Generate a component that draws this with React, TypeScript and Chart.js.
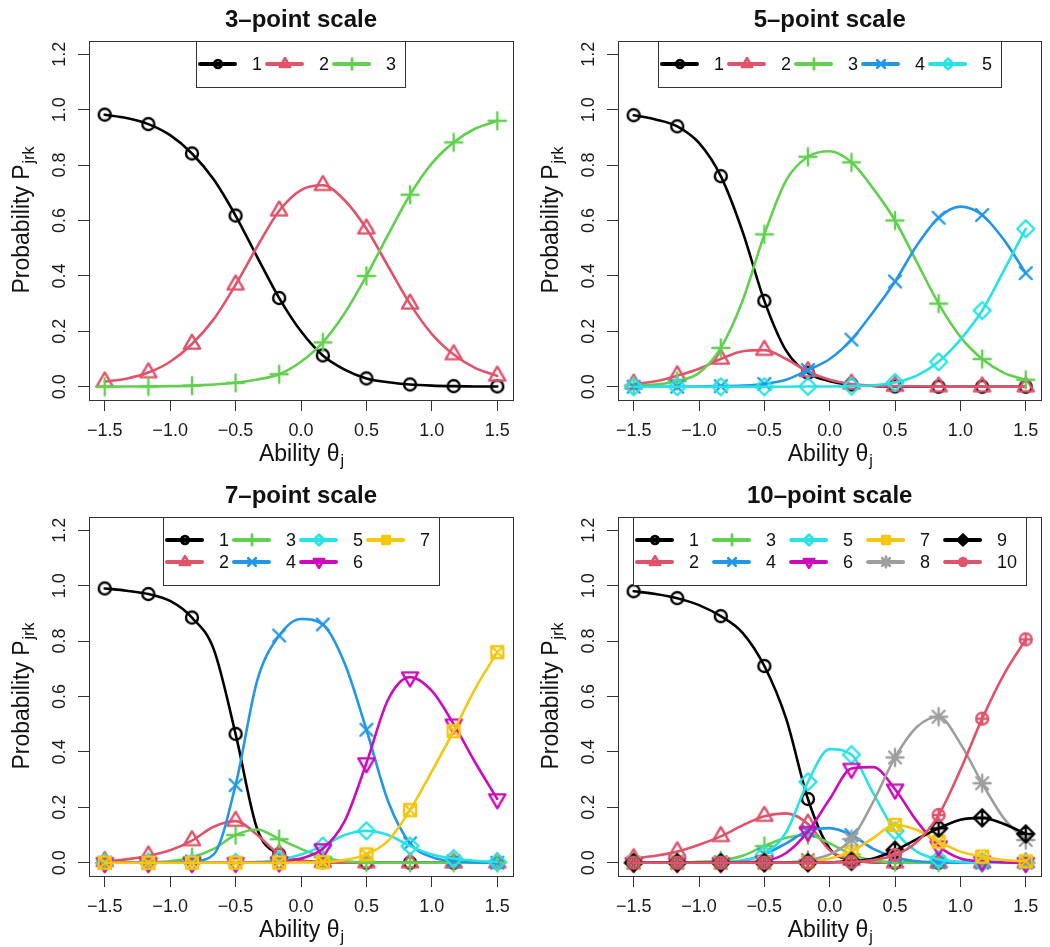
import React, { useEffect, useRef } from 'react';
import { Chart, registerables } from 'chart.js';
Chart.register(...registerables);

const FONT = "'Liberation Sans', Arial, Helvetica, sans-serif";

// ---------- data ----------
const theta = [-1.5, -1.3333, -1.1667, -1.0, -0.8333, -0.6667, -0.5, -0.3333, -0.1667, 0.0, 0.1667, 0.3333, 0.5, 0.6667, 0.8333, 1.0, 1.1667, 1.3333, 1.5];
const xTicks = [-1.5, -1.0, -0.5, 0.0, 0.5, 1.0, 1.5];
const yTicks = [0.0, 0.2, 0.4, 0.6, 0.8, 1.0, 1.2];
const categoryLabels = ['1', '2', '3', '4', '5', '6', '7', '8', '9', '10'];
const palette = ['#000000', '#DF536B', '#61D04F', '#2297E6', '#28E2E5', '#CD0BBC', '#F5C710', '#9E9E9E', '#000000', '#DF536B'];
const pchCodes = [1, 2, 3, 4, 5, 6, 7, 8, 9, 10];
const panelTitles = ['3\u2013point scale', '5\u2013point scale', '7\u2013point scale', '10\u2013point scale'];
const legendColumns = [3, 5, 4, 5];

// 3-point scale
const p3c1 = [0.982, 0.970, 0.948, 0.908, 0.842, 0.748, 0.618, 0.467, 0.320, 0.200, 0.113, 0.062, 0.030, 0.016, 0.008, 0.004, 0.002, 0.001, 0.001];
const p3c2 = [0.018, 0.029, 0.051, 0.090, 0.154, 0.244, 0.368, 0.507, 0.635, 0.710, 0.727, 0.673, 0.570, 0.434, 0.299, 0.190, 0.116, 0.067, 0.039];
const p3c3 = [0.000, 0.001, 0.001, 0.002, 0.004, 0.008, 0.014, 0.026, 0.045, 0.090, 0.160, 0.265, 0.400, 0.550, 0.693, 0.806, 0.882, 0.932, 0.960];

// 5-point scale
const p5c1 = [0.980, 0.965, 0.940, 0.880, 0.760, 0.560, 0.310, 0.130, 0.050, 0.020, 0.008, 0.003, 0.001, 0, 0, 0, 0, 0, 0];
const p5c2 = [0.010, 0.020, 0.040, 0.065, 0.100, 0.128, 0.132, 0.100, 0.055, 0.025, 0.010, 0.004, 0.002, 0.001, 0, 0, 0, 0, 0];
const p5c3 = [0.005, 0.008, 0.020, 0.050, 0.140, 0.310, 0.550, 0.745, 0.830, 0.850, 0.810, 0.715, 0.600, 0.450, 0.300, 0.180, 0.100, 0.050, 0.025];
const p5c4 = [0, 0, 0, 0.001, 0.002, 0.004, 0.010, 0.025, 0.060, 0.100, 0.170, 0.270, 0.380, 0.510, 0.610, 0.650, 0.620, 0.530, 0.410];
const p5c5 = [0, 0, 0, 0, 0, 0, 0, 0, 0.001, 0.001, 0.002, 0.005, 0.015, 0.040, 0.090, 0.170, 0.275, 0.420, 0.570];

// 7-point scale
const p7c1 = [0.990, 0.982, 0.970, 0.945, 0.885, 0.770, 0.465, 0.120, 0.030, 0.008, 0.002, 0, 0, 0, 0, 0, 0, 0, 0];
const p7c2 = [0.005, 0.012, 0.025, 0.045, 0.080, 0.130, 0.150, 0.100, 0.030, 0.008, 0.002, 0, 0, 0, 0, 0, 0, 0, 0];
const p7c3 = [0, 0.001, 0.002, 0.005, 0.020, 0.050, 0.100, 0.120, 0.085, 0.050, 0.020, 0.005, 0.001, 0, 0, 0, 0, 0, 0];
const p7c4 = [0, 0, 0, 0.001, 0.005, 0.030, 0.280, 0.660, 0.820, 0.880, 0.860, 0.720, 0.480, 0.220, 0.070, 0.020, 0.005, 0.001, 0];
const p7c5 = [0, 0, 0, 0, 0, 0, 0.001, 0.003, 0.010, 0.030, 0.060, 0.100, 0.115, 0.100, 0.060, 0.030, 0.015, 0.007, 0.003];
const p7c6 = [0, 0, 0, 0, 0, 0, 0, 0.001, 0.002, 0.015, 0.050, 0.150, 0.360, 0.590, 0.670, 0.620, 0.500, 0.360, 0.230];
const p7c7 = [0, 0, 0, 0, 0, 0, 0, 0, 0, 0.001, 0.002, 0.010, 0.030, 0.080, 0.190, 0.330, 0.475, 0.630, 0.760];

// 10-point scale
const p10c1 = [0.980, 0.970, 0.955, 0.930, 0.890, 0.830, 0.710, 0.520, 0.230, 0.050, 0.010, 0.002, 0, 0, 0, 0, 0, 0, 0];
const p10c2 = [0.015, 0.025, 0.040, 0.065, 0.095, 0.135, 0.168, 0.178, 0.140, 0.045, 0.010, 0.002, 0, 0, 0, 0, 0, 0, 0];
const p10c3 = [0, 0, 0, 0.003, 0.008, 0.025, 0.060, 0.090, 0.100, 0.070, 0.030, 0.008, 0.002, 0, 0, 0, 0, 0, 0];
const p10c4 = [0, 0, 0, 0, 0.002, 0.008, 0.030, 0.070, 0.115, 0.125, 0.100, 0.050, 0.020, 0.005, 0.001, 0, 0, 0, 0];
const p10c5 = [0, 0, 0, 0, 0.002, 0.008, 0.030, 0.110, 0.292, 0.410, 0.390, 0.250, 0.115, 0.040, 0.012, 0.003, 0.001, 0, 0];
const p10c6 = [0, 0, 0, 0, 0, 0.002, 0.006, 0.035, 0.112, 0.230, 0.340, 0.345, 0.265, 0.150, 0.060, 0.015, 0.005, 0.001, 0];
const p10c7 = [0, 0, 0, 0, 0, 0, 0, 0.001, 0.004, 0.015, 0.040, 0.090, 0.136, 0.118, 0.076, 0.040, 0.022, 0.010, 0.005];
const p10c8 = [0, 0, 0, 0, 0, 0, 0, 0.001, 0.010, 0.030, 0.085, 0.220, 0.380, 0.490, 0.527, 0.430, 0.287, 0.160, 0.082];
const p10c9 = [0, 0, 0, 0, 0, 0, 0, 0, 0, 0.001, 0.005, 0.015, 0.045, 0.085, 0.124, 0.155, 0.162, 0.140, 0.104];
const p10c10 = [0, 0, 0, 0, 0, 0, 0, 0, 0, 0.001, 0.003, 0.010, 0.028, 0.075, 0.172, 0.335, 0.520, 0.680, 0.806];

const panels = [
  [p3c1, p3c2, p3c3],
  [p5c1, p5c2, p5c3, p5c4, p5c5],
  [p7c1, p7c2, p7c3, p7c4, p7c5, p7c6, p7c7],
  [p10c1, p10c2, p10c3, p10c4, p10c5, p10c6, p10c7, p10c8, p10c9, p10c10],
];

// ---------- R-like plotting symbols ----------
function drawPch(g: CanvasRenderingContext2D, pch: number, R: number) {
  const s2 = Math.SQRT2;
  const tr = 1.555 * R, ty = 0.778 * R, tx = 1.347 * R;
  g.beginPath();
  switch (pch) {
    case 1:
      g.arc(0, 0, R, 0, Math.PI * 2);
      break;
    case 2:
      g.moveTo(0, -tr); g.lineTo(tx, ty); g.lineTo(-tx, ty); g.closePath();
      break;
    case 3: {
      const c = s2 * R;
      g.moveTo(-c, 0); g.lineTo(c, 0); g.moveTo(0, -c); g.lineTo(0, c);
      break;
    }
    case 4:
      g.moveTo(-R, -R); g.lineTo(R, R); g.moveTo(-R, R); g.lineTo(R, -R);
      break;
    case 5: {
      const c = s2 * R;
      g.moveTo(0, -c); g.lineTo(c, 0); g.lineTo(0, c); g.lineTo(-c, 0); g.closePath();
      break;
    }
    case 6:
      g.moveTo(0, tr); g.lineTo(tx, -ty); g.lineTo(-tx, -ty); g.closePath();
      break;
    case 7:
      g.rect(-R, -R, 2 * R, 2 * R);
      g.moveTo(-R, -R); g.lineTo(R, R); g.moveTo(-R, R); g.lineTo(R, -R);
      break;
    case 8: {
      const c = s2 * R;
      g.moveTo(-R, -R); g.lineTo(R, R); g.moveTo(-R, R); g.lineTo(R, -R);
      g.moveTo(-c, 0); g.lineTo(c, 0); g.moveTo(0, -c); g.lineTo(0, c);
      break;
    }
    case 9: {
      const c = s2 * R;
      g.moveTo(0, -c); g.lineTo(c, 0); g.lineTo(0, c); g.lineTo(-c, 0); g.closePath();
      g.moveTo(-c, 0); g.lineTo(c, 0); g.moveTo(0, -c); g.lineTo(0, c);
      break;
    }
    case 10:
      g.arc(0, 0, R, 0, Math.PI * 2);
      g.moveTo(-R, 0); g.lineTo(R, 0); g.moveTo(0, -R); g.lineTo(0, R);
      break;
  }
  g.stroke();
}

const markerCache: Record<string, HTMLCanvasElement> = {};
function getMarker(idx: number, legend: boolean): HTMLCanvasElement {
  const key = idx + (legend ? 'L' : 'P');
  if (markerCache[key]) return markerCache[key];
  const R = legend ? 3.8 : 6;
  const lw = legend ? 2.7 : 2.4;
  const half = Math.ceil(1.6 * R + lw) + 1;
  const c = document.createElement('canvas');
  c.width = half * 2;
  c.height = half * 2;
  const g = c.getContext('2d')!;
  g.translate(half, half);
  g.strokeStyle = palette[idx];
  g.lineWidth = lw;
  g.lineJoin = 'round';
  g.lineCap = 'round';
  drawPch(g, pchCodes[idx], R);
  markerCache[key] = c;
  return c;
}

// ---------- decorations (box, titles, legend) ----------
function drawSub(ctx: CanvasRenderingContext2D, main: string, sub: string, cx: number, base: number) {
  ctx.font = `23px ${FONT}`;
  const mw = ctx.measureText(main).width;
  ctx.font = `16px ${FONT}`;
  const sw = ctx.measureText(sub).width;
  const x0 = cx - (mw + sw) / 2;
  ctx.textAlign = 'left';
  ctx.textBaseline = 'alphabetic';
  ctx.font = `23px ${FONT}`;
  ctx.fillText(main, x0, base);
  ctx.font = `16px ${FONT}`;
  ctx.fillText(sub, x0 + mw + 1, base + 5);
}

function drawLegend(ctx: CanvasRenderingContext2D, a: any, pi: number) {
  const series = panels[pi];
  const n = series.length;
  const ncol = legendColumns[pi];
  const nrow = Math.ceil(n / ncol);
  ctx.font = `18px ${FONT}`;
  let maxW = 0;
  for (let i = 0; i < n; i++) maxW = Math.max(maxW, ctx.measureText(categoryLabels[i]).width);
  const colW = maxW + 57;
  const boxW = ncol * colW + 8;
  const boxH = nrow * 22 + 24;
  const bx = Math.round((a.left + a.right) / 2 - boxW / 2);
  const by = Math.round(a.top);
  ctx.fillStyle = '#ffffff';
  ctx.fillRect(bx, by, boxW, boxH);
  ctx.strokeStyle = '#333333';
  ctx.lineWidth = 1;
  ctx.strokeRect(bx + 0.5, by + 0.5, Math.round(boxW), boxH);
  for (let i = 0; i < n; i++) {
    const col = Math.floor(i / nrow);
    const row = i % nrow;
    const x0 = bx + 3 + col * colW;
    const y = by + 23 + row * 22;
    ctx.strokeStyle = palette[i];
    ctx.lineWidth = 4;
    ctx.lineCap = 'round';
    ctx.beginPath();
    ctx.moveTo(x0 + 1, y);
    ctx.lineTo(x0 + 36, y);
    ctx.stroke();
    const m = getMarker(i, true);
    ctx.drawImage(m, Math.round(x0 + 18.5 - m.width / 2), Math.round(y - m.height / 2));
    ctx.fillStyle = '#111111';
    ctx.font = `18px ${FONT}`;
    ctx.textAlign = 'left';
    ctx.textBaseline = 'middle';
    ctx.fillText(categoryLabels[i], x0 + 53, y + 1);
  }
}

const decorPlugin = {
  id: 'decor',
  afterDraw(chart: any, _args: any, opts: any) {
    const ctx: CanvasRenderingContext2D = chart.ctx;
    const a = chart.chartArea;
    const pi = opts.panel as number;
    ctx.save();
    ctx.strokeStyle = '#333333';
    ctx.lineWidth = 1;
    ctx.strokeRect(Math.round(a.left) + 0.5, Math.round(a.top) + 0.5, Math.round(a.right - a.left), Math.round(a.bottom - a.top));
    const cx = (a.left + a.right) / 2;
    ctx.fillStyle = '#111111';
    ctx.font = `bold 24px ${FONT}`;
    ctx.textAlign = 'center';
    ctx.textBaseline = 'alphabetic';
    ctx.fillText(panelTitles[pi], cx, 27);
    drawSub(ctx, 'Ability \u03b8', 'j', cx, a.bottom + 61);
    ctx.save();
    ctx.translate(29, (a.top + a.bottom) / 2);
    ctx.rotate(-Math.PI / 2);
    drawSub(ctx, 'Probability P', 'jrk', 0, 0);
    ctx.restore();
    drawLegend(ctx, a, pi);
    ctx.restore();
  },
};

function fmtX(v: number) {
  const s = Number(v).toFixed(1);
  return s.replace('-', '\u2212');
}

function Panel({ idx }: { idx: number }) {
  const ref = useRef<HTMLCanvasElement>(null);
  const left = idx % 2 === 0 ? 0 : 529;
  const top = idx < 2 ? 0 : 476;
  const w = idx % 2 === 0 ? 529 : 521;
  const h = 471;

  useEffect(() => {
    const series = panels[idx];
    const n = series.length;
    const datasets = series.map((vals, i) => ({
      label: categoryLabels[i],
      data: theta.map((x, j) => ({ x, y: vals[j] })),
      borderColor: palette[i],
      backgroundColor: palette[i],
      borderWidth: 2.6,
      borderCapStyle: 'round',
      borderJoinStyle: 'round',
      cubicInterpolationMode: 'monotone',
      pointStyle: getMarker(i, false),
      pointRadius: (c: any) => (c.dataIndex % 2 === 0 ? 6 : 0),
      pointHoverRadius: (c: any) => (c.dataIndex % 2 === 0 ? 6 : 0),
      order: n - 1 - i,
      clip: false,
    }));
    const tickFont = { family: FONT, size: 18 };
    const gridOpts = { display: true, drawOnChartArea: false, drawTicks: true, tickLength: 11, color: '#333333', lineWidth: 1 };
    const chart = new Chart(ref.current!, {
      type: 'line',
      data: { datasets: datasets as any },
      options: {
        animation: false,
        responsive: false,
        events: [],
        layout: { padding: { top: 41, left: 0, right: w - 513, bottom: 0 } },
        plugins: {
          legend: { display: false },
          title: { display: false },
          tooltip: { enabled: false },
          decor: { panel: idx },
        } as any,
        scales: {
          x: {
            type: 'linear',
            min: -1.62,
            max: 1.62,
            afterBuildTicks: (s: any) => { s.ticks = xTicks.map((v) => ({ value: v })); },
            afterFit: (s: any) => { s.height = 71; },
            grid: gridOpts,
            border: { display: false },
            ticks: {
              autoSkip: false, minRotation: 0, maxRotation: 0, padding: 9,
              color: '#1a1a1a', font: tickFont,
              callback: (v: any) => fmtX(v),
            },
          },
          y: {
            type: 'linear',
            min: -0.048,
            max: 1.248,
            afterBuildTicks: (s: any) => { s.ticks = yTicks.map((v) => ({ value: v })); },
            afterFit: (s: any) => { s.width = 89; },
            grid: gridOpts,
            border: { display: false },
            ticks: {
              autoSkip: false, minRotation: 90, maxRotation: 90, crossAlign: 'center', padding: 5,
              color: '#1a1a1a', font: tickFont,
              callback: (v: any) => Number(v).toFixed(1),
            },
          },
        } as any,
      },
      plugins: [decorPlugin],
    } as any);
    return () => chart.destroy();
  }, [idx]);

  return (
    <canvas
      ref={ref}
      width={w}
      height={h}
      style={{ position: 'absolute', left, top, width: w, height: h, display: 'block' }}
    />
  );
}

export default function App() {
  return (
    <div style={{ position: 'absolute', left: 0, top: 0, width: 1050, height: 947, background: '#ffffff', overflow: 'hidden' }}>
      {panels.map((_, i) => (
        <Panel key={i} idx={i} />
      ))}
    </div>
  );
}
